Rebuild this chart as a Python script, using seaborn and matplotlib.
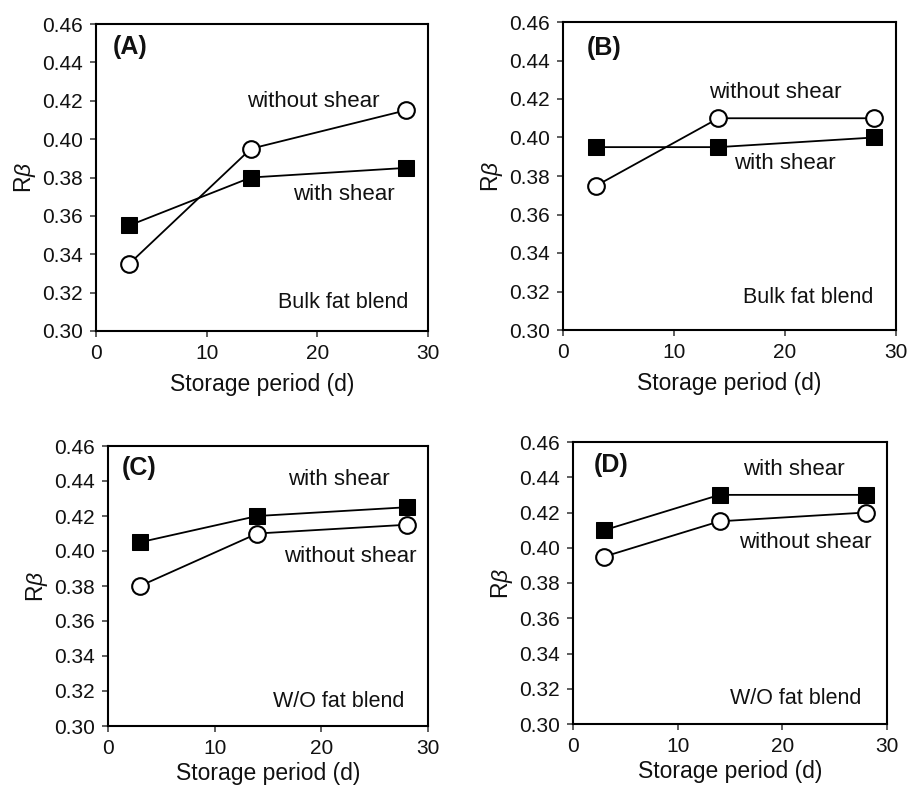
import matplotlib
matplotlib.use("Agg")
import matplotlib.pyplot as plt
import seaborn as sns
import pandas as pd

sns.set_style("ticks")
plt.rcParams['font.family'] = ['Liberation Sans', 'DejaVu Sans']
plt.rcParams['mathtext.fontset'] = 'custom'
plt.rcParams['mathtext.it'] = 'Liberation Sans:italic'
plt.rcParams['mathtext.rm'] = 'Liberation Sans'

days = [3, 14, 28]
a_with = [0.355, 0.380, 0.385]
a_without = [0.335, 0.395, 0.415]
b_with = [0.395, 0.395, 0.400]
b_without = [0.375, 0.410, 0.410]
c_with = [0.405, 0.420, 0.425]
c_without = [0.380, 0.410, 0.415]
d_with = [0.410, 0.430, 0.430]
d_without = [0.395, 0.415, 0.420]

panel_labels = ["(A)", "(B)", "(C)", "(D)"]
blend_labels = ["Bulk fat blend", "Bulk fat blend", "W/O fat blend", "W/O fat blend"]
yticks = [0.30, 0.32, 0.34, 0.36, 0.38, 0.40, 0.42, 0.44, 0.46]
xticks = [0, 10, 20, 30]

W, H = 907, 787
fig = plt.figure(figsize=(W / 100, H / 100), dpi=100)

# axes boxes in pixels: left, top, right, bottom
boxes = [(96, 24, 428, 331), (563, 22, 896, 330), (108, 446, 428, 726), (573, 442, 887, 724)]
series = [(a_with, a_without), (b_with, b_without), (c_with, c_without), (d_with, d_without)]
xlabel_pads = [7, 7, 3, 3]
# annotation positions (axes fraction): with, without, blend, panel
pos = [
    {"with": (0.593, 0.443), "without": (0.455, 0.746), "blend": (0.548, 0.094), "panel": (0.05, 0.925)},
    {"with": (0.514, 0.542), "without": (0.44, 0.77), "blend": (0.54, 0.104), "panel": (0.072, 0.916)},
    {"with": (0.5625, 0.879), "without": (0.55, 0.604), "blend": (0.515, 0.086), "panel": (0.044, 0.92)},
    {"with": (0.54, 0.904), "without": (0.53, 0.645), "blend": (0.50, 0.092), "panel": (0.067, 0.918)},
]

for i, (box, (yw, ywo)) in enumerate(zip(boxes, series)):
    l, t, r, b = box
    ax = fig.add_axes([l / W, 1 - b / H, (r - l) / W, (b - t) / H])
    df = pd.DataFrame({"day": days * 2, "rb": yw + ywo,
                       "cond": ["with shear"] * 3 + ["without shear"] * 3})
    sns.lineplot(data=df[df.cond == "with shear"], x="day", y="rb", ax=ax, color="black",
                 lw=1.3, marker="s", markersize=11.5, markerfacecolor="black",
                 markeredgecolor="black", zorder=3)
    sns.lineplot(data=df[df.cond == "without shear"], x="day", y="rb", ax=ax, color="black",
                 lw=1.3, marker="o", markersize=12, markerfacecolor="white",
                 markeredgecolor="black", markeredgewidth=1.5, zorder=3)
    ax.set_xlim(0, 30)
    ax.set_ylim(0.30, 0.46)
    ax.set_xticks(xticks)
    ax.set_yticks(yticks)
    ax.set_yticklabels([f"{v:.2f}" for v in yticks])
    ax.tick_params(direction="out", length=4.5, width=1.1, labelsize=15, color="#333333",
                   labelcolor="#111111", top=False, right=False, pad=5)
    for s in ax.spines.values():
        s.set_linewidth(1.5)
        s.set_color("black")
    ax.set_xlabel("Storage period (d)", fontsize=16.5, labelpad=xlabel_pads[i], color="#111111")
    ax.set_ylabel(r"R$\it{\beta}$", fontsize=16.5, labelpad=3, color="#111111")
    p = pos[i]
    ax.text(*p["with"], "with shear", transform=ax.transAxes, fontsize=16, va="center", ha="left",
            color="#111111")
    ax.text(*p["without"], "without shear", transform=ax.transAxes, fontsize=16, va="center",
            ha="left", color="#111111")
    ax.text(*p["blend"], blend_labels[i], transform=ax.transAxes, fontsize=15.5, va="center",
            ha="left", color="#111111")
    ax.text(*p["panel"], panel_labels[i], transform=ax.transAxes, fontsize=18, fontweight="bold",
            va="center", ha="left", color="#111111")

fig.savefig("out.png", dpi=100)
